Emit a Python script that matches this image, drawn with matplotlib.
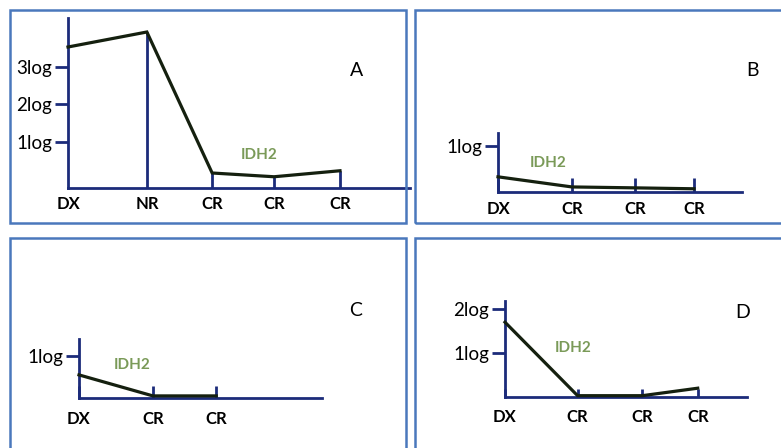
import matplotlib.pyplot as plt
from matplotlib.patches import Rectangle

W, H = 781, 448

# MRD levels (in logs) at each sampling time point
labels_a = ['DX', 'NR', 'CR', 'CR', 'CR']
t_a = [0, 1.16, 2.12, 3.03, 4.0]
mrd_a = [3.53, 3.93, 0.17, 0.07, 0.23]
yticks_a = [1, 2, 3]

labels_b = ['DX', 'CR', 'CR', 'CR']
t_b = [0, 1.12, 2.08, 2.97]
mrd_b = [0.33, 0.11, 0.09, 0.07]
yticks_b = [1]

labels_c = ['DX', 'CR', 'CR']
t_c = [0, 1.12, 2.08]
mrd_c = [0.55, 0.05, 0.05]
yticks_c = [1]

labels_d = ['DX', 'CR', 'CR', 'CR']
t_d = [0, 1.1, 2.08, 2.92]
mrd_d = [1.7, 0.03, 0.03, 0.2]
yticks_d = [1, 2]

AXIS = '#1c2b7a'
LINE = '#15200f'
BOX = '#4a78bc'
GREEN = '#7a9a58'
FONT = 'Lato'

plt.rcParams['font.family'] = FONT

fig = plt.figure(figsize=(W / 100, H / 100), dpi=100)


def px_box(x0, y0, x1, y1):
    # pixel rectangle (top-left origin) -> figure fraction
    return [x0 / W, 1 - y1 / H, (x1 - x0) / W, (y1 - y0) / H]


def panel(ox, oy, ux, uy, ybot, ytop, xmax, t, y, labels, yticks,
          tick_len, pad, stems=False):
    ax = fig.add_axes(px_box(ox, oy - (ytop - ybot) * uy,
                             ox + xmax * ux, oy))
    ax.set_xlim(0, xmax)
    ax.set_ylim(ybot, ytop)
    ax.patch.set_alpha(0)
    for s in ['top', 'right']:
        ax.spines[s].set_visible(False)
    for s in ['left', 'bottom']:
        ax.spines[s].set_color(AXIS)
        ax.spines[s].set_linewidth(2)
        ax.spines[s].set_clip_on(False)

    ax.plot(t, y, color=LINE, lw=2.3, solid_joinstyle='miter',
            clip_on=False, zorder=3)
    if stems:
        ax.vlines(t[1:], ybot, y[1:], color=AXIS, lw=2, zorder=2)

    ax.set_yticks(yticks)
    ax.set_yticklabels([f'{v}log' for v in yticks], fontsize=13.5)
    ax.tick_params(axis='y', direction='out', length=9.5, width=2,
                   color=AXIS, pad=2)

    ax.set_xticks(t)
    ax.set_xticklabels(labels, fontsize=12, fontweight='bold')
    ax.tick_params(axis='x', direction='in', length=tick_len, width=2,
                   color=AXIS, pad=pad)
    return ax


def text_px(x, y, s, **kw):
    fig.text(x / W, 1 - y / H, s, ha='center', va='center', **kw)


# panel frames
for x0, y0, x1, y1 in [(10, 10, 406, 223), (415, 10, 790, 223),
                       (10, 238, 406, 460), (415, 238, 790, 460)]:
    fig.add_artist(Rectangle((x0 / W, 1 - y1 / H), (x1 - x0) / W,
                             (y1 - y0) / H, transform=fig.transFigure,
                             fill=False, edgecolor=BOX, lw=1.8))

panel(68, 188, 68, 37.5, -0.23, 4.3, 5.03, t_a, mrd_a, labels_a,
      yticks_a, 0, 5.5, stems=True)
panel(498, 192, 66, 46, 0, 1.28, 3.7, t_b, mrd_b, labels_b,
      yticks_b, 10, 6.5)
panel(79, 398, 66, 42, 0, 1.4, 3.68, t_c, mrd_c, labels_c,
      yticks_c, 8.5, 9.5)
panel(505, 397, 66, 44, 0, 2.18, 3.67, t_d, mrd_d, labels_d,
      yticks_d, 6, 8.5)

for x, y, s in [(357, 70, 'A'), (752, 71, 'B'), (356, 310, 'C'),
                (743, 312, 'D')]:
    text_px(x, y, s, fontsize=14, color='black')

for x, y in [(259, 155), (548, 163), (132, 365), (573, 348)]:
    text_px(x, y, 'IDH2', fontsize=11, fontweight='bold', color=GREEN)

fig.savefig('out.png', dpi=100)
